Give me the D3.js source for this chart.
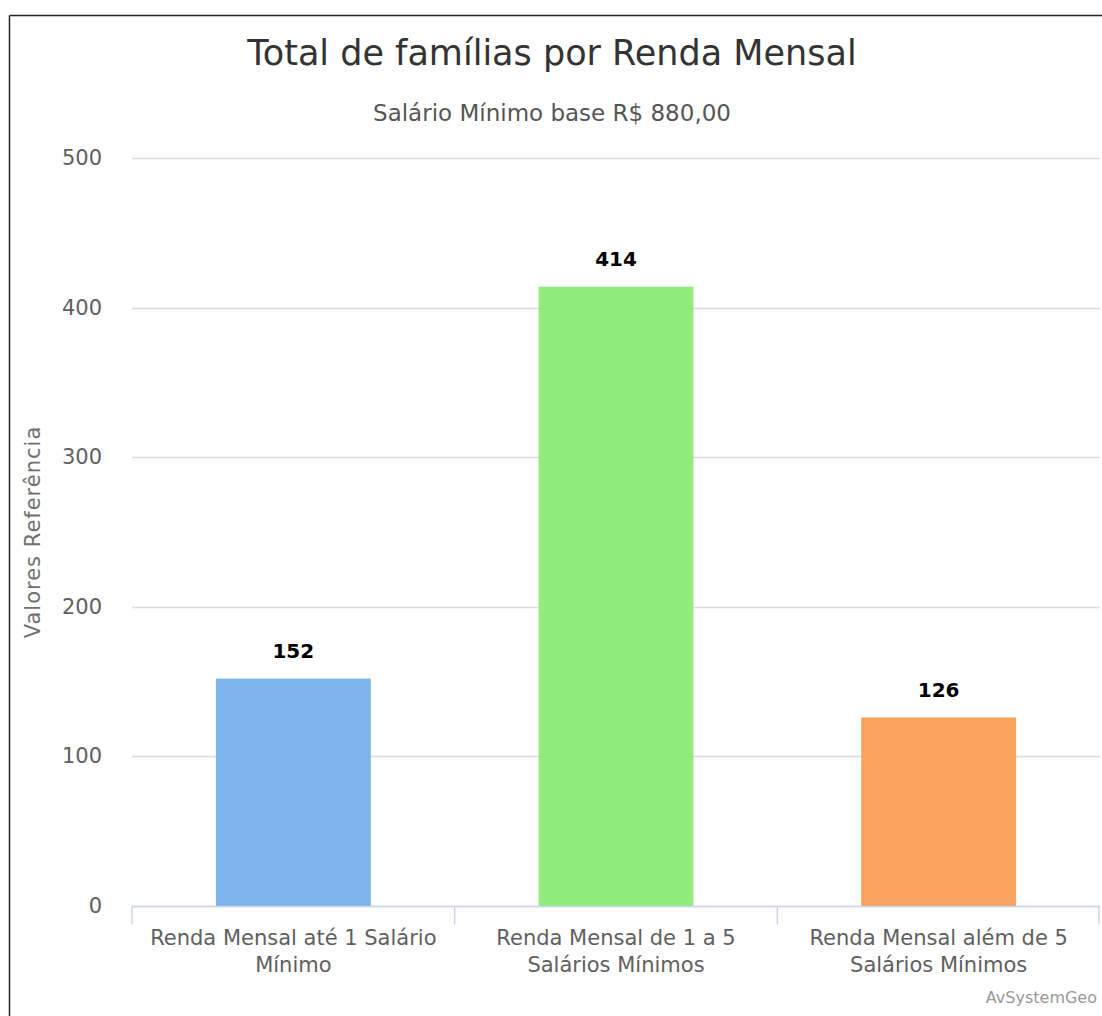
<!DOCTYPE html>
<html>
<head>
<meta charset="utf-8">
<script src="https://cdn.jsdelivr.net/npm/d3@7"></script>
<style>
  body { margin: 0; background: #fff; }
  svg text { font-family: "DejaVu Sans", Verdana, sans-serif; }
</style>
</head>
<body>
<div id="chart"></div>
<script>
// totals per income band
const categories = [
    ["Renda Mensal até 1 Salário", "Mínimo"],
    ["Renda Mensal de 1 a 5", "Salários Mínimos"],
    ["Renda Mensal além de 5", "Salários Mínimos"]
];
const values = [152, 414, 126];
const barColors = ["#7cb5ec", "#90ed7d", "#f7a35c"];
const yTicks = [0, 100, 200, 300, 400, 500];

const width = 1102, height = 1016;
const margin = { top: 158, right: 2, bottom: 110, left: 132 };

const svg = d3.select("#chart")
    .append("svg")
    .attr("width", width)
    .attr("height", height);

// frame (screenshot is cropped, only left + top edges show)
svg.append("line").attr("x1", 9.5).attr("x2", 9.5).attr("y1", 15.5).attr("y2", height)
    .attr("stroke", "#222").attr("stroke-width", 1.5);
svg.append("line").attr("x1", 9.5).attr("x2", width).attr("y1", 15.5).attr("y2", 15.5)
    .attr("stroke", "#222").attr("stroke-width", 1.5);

const x = d3.scaleBand()
    .domain(d3.range(categories.length))
    .range([margin.left, width - margin.right]);

const y = d3.scaleLinear()
    .domain([0, 500])
    .range([height - margin.bottom, margin.top]);

// gridlines
svg.append("g")
    .selectAll("line")
    .data(yTicks)
    .enter()
    .append("line")
    .attr("x1", margin.left)
    .attr("x2", width - margin.right)
    .attr("y1", d => Math.round(y(d)) + 0.5)
    .attr("y2", d => Math.round(y(d)) + 0.5)
    .attr("stroke", "#dcdcdc")
    .attr("stroke-width", 1.5);

// y tick labels
svg.append("g")
    .selectAll("text")
    .data(yTicks)
    .enter()
    .append("text")
    .attr("x", 102)
    .attr("y", d => y(d) + 7)
    .attr("text-anchor", "end")
    .style("font-size", "21px")
    .style("fill", "#606060")
    .text(d => d);

// y axis title
svg.append("text")
    .attr("transform", `translate(40, ${(y(0) + y(500)) / 2}) rotate(-90)`)
    .attr("text-anchor", "middle")
    .style("font-size", "21px")
    .style("letter-spacing", "1px")
    .style("fill", "#707070")
    .text("Valores Referência");

// bars
const inner = x.bandwidth() * 0.6 * 0.8;
svg.append("g")
    .selectAll("rect")
    .data(values)
    .enter()
    .append("rect")
    .attr("x", (d, i) => x(i) + (x.bandwidth() - inner) / 2)
    .attr("y", d => y(d))
    .attr("width", inner)
    .attr("height", d => y(0) - y(d))
    .attr("fill", (d, i) => barColors[i]);

// data labels
svg.append("g")
    .selectAll("text")
    .data(values)
    .enter()
    .append("text")
    .attr("x", (d, i) => x(i) + x.bandwidth() / 2)
    .attr("y", d => y(d) - 21)
    .attr("text-anchor", "middle")
    .style("font-size", "20px")
    .style("font-weight", "bold")
    .style("fill", "#000")
    .text(d => d);

// x axis line + ticks
const axisY = y(0) + 0.5;
svg.append("line")
    .attr("x1", margin.left).attr("x2", width - margin.right)
    .attr("y1", axisY).attr("y2", axisY)
    .attr("stroke", "#ccd6eb").attr("stroke-width", 1.5);

const tickPos = d3.range(categories.length + 1).map(i => margin.left + i * x.step());
svg.append("g")
    .selectAll("line")
    .data(tickPos)
    .enter()
    .append("line")
    .attr("x1", d => Math.min(d, width - margin.right - 1))
    .attr("x2", d => Math.min(d, width - margin.right - 1))
    .attr("y1", axisY).attr("y2", axisY + 18)
    .attr("stroke", "#ccd6eb").attr("stroke-width", 1.5);

// category labels
const catG = svg.append("g");
categories.forEach((lines, i) => {
    const t = catG.append("text")
        .attr("x", x(i) + x.bandwidth() / 2)
        .attr("y", 945)
        .attr("text-anchor", "middle")
        .style("font-size", "21px")
        .style("fill", "#606060");
    lines.forEach((ln, j) => {
        t.append("tspan")
            .attr("x", x(i) + x.bandwidth() / 2)
            .attr("dy", j === 0 ? 0 : 27)
            .text(ln);
    });
});

// title + subtitle
svg.append("text")
    .attr("x", 552)
    .attr("y", 65)
    .attr("text-anchor", "middle")
    .style("font-size", "35px")
    .style("fill", "#333")
    .text("Total de famílias por Renda Mensal");

svg.append("text")
    .attr("x", 552)
    .attr("y", 121)
    .attr("text-anchor", "middle")
    .style("font-size", "23px")
    .style("fill", "#555")
    .text("Salário Mínimo base R$ 880,00");

// credits
svg.append("text")
    .attr("x", 1097)
    .attr("y", 1003)
    .attr("text-anchor", "end")
    .style("font-size", "16px")
    .style("fill", "#999")
    .text("AvSystemGeo");
</script>
</body>
</html>
